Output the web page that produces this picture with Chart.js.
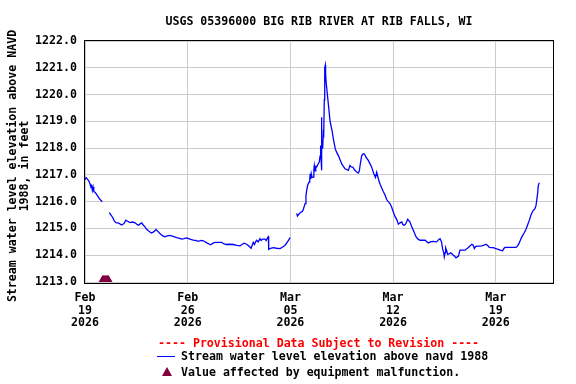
<!DOCTYPE html>
<html>
<head>
<meta charset="utf-8">
<script src="https://cdn.jsdelivr.net/npm/chart.js@4.4.1/dist/chart.umd.min.js"></script>
<style>
  html, body { margin: 0; padding: 0; background: #fff; }
  #wrap { position: relative; width: 576px; height: 384px; }
  canvas { position: absolute; left: 0; top: 0; }
  .lg { position: absolute; font-family: 'DejaVu Sans Mono', monospace; font-weight: bold; font-size: 11.6px; line-height: 13px; white-space: pre; }
</style>
</head>
<body>
<div id="wrap">
  <canvas id="c" width="576" height="384"></canvas>
  <div class="lg" style="left:158px; top:336.5px; color:#ff0000;">---- Provisional Data Subject to Revision ----</div>
  <div style="position:absolute; left:157px; top:356px; width:18px; height:1.3px; background:#0000ff;"></div>
  <div class="lg" style="left:181px; top:350px; color:#000;">Stream water level elevation above navd 1988</div>
  <div style="position:absolute; left:161.5px; top:367px; width:0; height:0; border-left:5.5px solid transparent; border-right:5.5px solid transparent; border-bottom:9px solid #800040;"></div>
  <div class="lg" style="left:181px; top:366px; color:#000;">Value affected by equipment malfunction.</div>
</div>
<script>
// ---- data (days since Feb 19 2026 00:00, gage height in ft above NAVD 1988) ----
const titleText = 'USGS 05396000 BIG RIB RIVER AT RIB FALLS, WI';
const yTitleLines = ['Stream water level elevation above NAVD', '1988, in feet'];
const tickDays = [0, 7, 14, 21, 28];
const tickMonths = ['Feb', 'Feb', 'Mar', 'Mar', 'Mar'];
const tickDates = ['19', '26', '05', '12', '19'];
const tickYears = ['2026', '2026', '2026', '2026', '2026'];

const days = [
  0.00,0.07,0.15,0.25,0.34,0.40,0.45,0.50,0.55,0.60,0.70,0.80,0.90,1.00,1.10,1.18,
  1.40,
  1.66,1.75,1.89,2.00,2.11,2.30,2.50,2.65,2.79,2.90,3.07,3.25,3.41,3.55,3.64,3.78,3.86,3.98,
  4.09,4.20,4.32,4.45,4.54,4.70,4.84,4.95,5.11,5.25,5.45,5.60,5.79,6.00,6.25,6.40,6.59,6.75,
  6.93,7.15,7.38,7.55,7.73,7.90,8.07,8.30,8.57,8.70,8.86,9.10,9.32,9.45,9.61,9.85,10.11,10.35,
  10.57,10.70,10.84,11.02,11.15,11.32,11.40,11.47,11.55,11.65,11.70,11.80,11.93,12.00,12.10,
  12.27,12.35,12.45,12.50,12.52,12.65,12.84,13.05,13.30,13.45,13.57,13.70,13.80,13.90,13.97,
  14.20,
  14.43,14.48,14.56,14.66,14.75,14.84,14.92,15.00,15.06,15.11,15.18,15.27,15.32,15.35,15.38,
  15.42,15.48,15.56,15.60,15.63,15.68,15.73,15.80,15.88,15.97,16.02,16.06,16.09,16.11,16.13,
  16.15,16.20,16.24,16.27,16.31,16.34,16.38,16.40,16.43,16.52,16.61,16.70,16.84,16.93,17.06,
  17.15,17.27,17.40,17.50,17.60,17.72,17.85,17.95,18.06,18.15,18.25,18.40,18.50,18.63,18.70,
  18.75,18.86,18.97,19.05,19.15,19.31,19.42,19.54,19.62,19.70,19.80,19.88,19.95,20.05,20.15,
  20.33,20.45,20.56,20.68,20.79,20.90,20.97,21.13,21.25,21.36,21.45,21.59,21.67,21.75,21.85,
  22.00,22.15,22.28,22.38,22.56,22.70,22.84,23.00,23.18,23.40,23.55,23.70,23.97,24.10,24.20,
  24.30,24.38,24.45,24.49,24.55,24.58,24.65,24.72,24.85,24.93,25.02,25.11,25.20,25.29,25.38,
  25.45,25.56,25.75,25.90,26.13,26.25,26.36,26.45,26.54,26.62,26.74,26.90,27.04,27.20,27.33,
  27.45,27.56,27.70,27.83,28.00,28.17,28.35,28.47,28.55,28.63,28.97,29.38,29.50,29.60,29.72,
  29.84,29.95,30.06,30.18,30.29,30.40,30.52,30.67,30.74,30.79,30.85,30.90,30.97
];
const levels = [
  1216.82,1216.90,1216.85,1216.78,1216.67,1216.55,1216.60,1216.42,1216.55,1216.38,1216.34,1216.26,1216.18,1216.10,1216.04,1216.00,
  null,
  1215.59,1215.52,1215.41,1215.27,1215.22,1215.20,1215.13,1215.18,1215.31,1215.27,1215.22,1215.24,1215.21,1215.15,1215.12,1215.18,1215.21,1215.12,
  1215.06,1214.97,1214.91,1214.86,1214.83,1214.88,1214.96,1214.90,1214.81,1214.74,1214.69,1214.72,1214.74,1214.70,1214.66,1214.64,1214.60,1214.62,
  1214.65,1214.60,1214.56,1214.55,1214.52,1214.55,1214.54,1214.46,1214.39,1214.44,1214.48,1214.48,1214.48,1214.43,1214.40,1214.41,1214.40,1214.37,
  1214.35,1214.40,1214.45,1214.41,1214.35,1214.26,1214.38,1214.48,1214.40,1214.52,1214.56,1214.50,1214.62,1214.55,1214.60,
  1214.60,1214.55,1214.66,1214.69,1214.22,1214.26,1214.28,1214.26,1214.25,1214.30,1214.34,1214.42,1214.50,1214.58,1214.66,
  null,
  1215.56,1215.46,1215.52,1215.58,1215.62,1215.65,1215.78,1215.93,1216.20,1216.42,1216.62,1216.73,1216.85,1217.04,1216.85,
  1217.05,1216.90,1216.92,1217.20,1217.35,1217.15,1217.32,1217.30,1217.40,1217.48,1217.70,1218.10,1217.60,1217.17,1219.15,
  1218.00,1218.00,1218.50,1218.40,1219.80,1221.00,1221.10,1220.80,1220.50,1220.00,1219.52,1219.02,1218.65,1218.34,1217.97,
  1217.85,1217.72,1217.55,1217.41,1217.33,1217.23,1217.20,1217.17,1217.35,1217.30,1217.29,1217.17,1217.12,1217.07,1217.15,
  1217.35,1217.72,1217.79,1217.78,1217.66,1217.54,1217.42,1217.29,1217.15,1217.02,1216.90,1217.10,1216.95,1216.75,1216.60,
  1216.38,1216.25,1216.08,1215.99,1215.93,1215.80,1215.68,1215.45,1215.33,1215.16,1215.20,1215.24,1215.14,1215.12,1215.16,
  1215.34,1215.24,1215.05,1214.93,1214.69,1214.60,1214.56,1214.56,1214.56,1214.46,1214.50,1214.52,1214.50,1214.58,1214.62,
  1214.50,1214.22,1214.10,1213.94,1214.10,1214.28,1214.18,1214.03,1214.06,1214.09,1214.05,1214.00,1213.96,1213.90,1213.94,
  1213.96,1214.19,1214.19,1214.19,1214.29,1214.35,1214.41,1214.38,1214.25,1214.32,1214.34,1214.34,1214.35,1214.38,1214.41,
  1214.36,1214.29,1214.28,1214.28,1214.25,1214.22,1214.18,1214.17,1214.25,1214.29,1214.29,1214.29,1214.36,1214.46,1214.62,
  1214.75,1214.85,1214.97,1215.15,1215.31,1215.50,1215.65,1215.74,1215.85,1216.05,1216.30,1216.61,1216.71
];
// equipment-malfunction flags (plotted on the bottom axis)
const flagDays = [1.20, 1.26, 1.32, 1.38, 1.44, 1.50, 1.56, 1.60];
const flagLevels = [1213.0, 1213.0, 1213.0, 1213.0, 1213.0, 1213.0, 1213.0, 1213.0];

const Y_MIN = 1213, Y_MAX = 1222, X_MIN = 0, X_MAX = 31.9;
const FONT = { family: "'DejaVu Sans Mono', monospace", size: 11.6, weight: 'bold' };
const FONT_CSS = "bold 11.6px 'DejaVu Sans Mono', monospace";

const framePlugin = {
  id: 'frame',
  beforeDatasetsDraw(chart) {
    const { ctx, chartArea: a } = chart;
    ctx.save();
    ctx.strokeStyle = '#000';
    ctx.lineWidth = 1;
    ctx.strokeRect(Math.round(a.left) - 0.5, Math.round(a.top) - 0.5,
      Math.round(a.right - a.left) + 1, Math.round(a.bottom - a.top) + 2);
    ctx.restore();
  },
  afterDraw(chart) {
    const { ctx, chartArea: a } = chart;
    ctx.save();
    ctx.fillStyle = '#000';
    ctx.font = FONT_CSS;
    ctx.textAlign = 'center';
    ctx.textBaseline = 'middle';
    // chart title, centred over the plot area
    ctx.fillText(titleText, (a.left + a.right) / 2, 21.5);
    // y-axis title, two rotated lines
    ctx.translate(12.5, 166);
    ctx.rotate(-Math.PI / 2);
    ctx.fillText(yTitleLines[0], 0, 0);
    ctx.fillText(yTitleLines[1], 0, 12.3);
    ctx.restore();
  }
};

new Chart(document.getElementById('c'), {
  type: 'line',
  data: {
    datasets: [
      {
        label: 'Stream water level elevation above navd 1988',
        data: days.map((d, i) => ({ x: d, y: levels[i] })),
        borderColor: '#0000ff',
        borderWidth: 1.3,
        pointRadius: 0,
        tension: 0,
        spanGaps: false,
        order: 2
      },
      {
        label: 'Value affected by equipment malfunction.',
        data: flagDays.map((d, i) => ({ x: d, y: flagLevels[i] })),
        showLine: false,
        pointStyle: 'triangle',
        pointRadius: 7,
        pointBackgroundColor: '#800040',
        pointBorderColor: '#800040',
        pointBorderWidth: 0,
        order: 1
      }
    ]
  },
  options: {
    responsive: false,
    animation: false,
    events: [],
    layout: { padding: { left: 0, right: 23, top: 41, bottom: 0 } },
    plugins: {
      legend: { display: false },
      tooltip: { enabled: false },
      title: { display: false }
    },
    scales: {
      x: {
        type: 'linear',
        min: X_MIN,
        max: X_MAX,
        afterBuildTicks(scale) { scale.ticks = tickDays.map(v => ({ value: v })); },
        afterFit(scale) { scale.height = 102; },
        grid: { color: '#cccccc', lineWidth: 1, drawTicks: false },
        border: { display: false },
        ticks: {
          autoSkip: false,
          maxRotation: 0,
          padding: 9,
          color: '#000',
          font: Object.assign({}, FONT, { lineHeight: 1.12 }),
          callback(v) {
            const i = tickDays.indexOf(v);
            return i < 0 ? '' : [tickMonths[i], tickDates[i], tickYears[i]];
          }
        }
      },
      y: {
        type: 'linear',
        min: Y_MIN,
        max: Y_MAX,
        afterFit(scale) { scale.width = 85; },
        grid: { color: '#cccccc', lineWidth: 1, drawTicks: false },
        border: { display: false },
        ticks: {
          stepSize: 1,
          padding: 8,
          color: '#000',
          font: FONT,
          callback(v) { return Number(v).toFixed(1); }
        }
      }
    }
  },
  plugins: [framePlugin]
});
</script>
</body>
</html>
